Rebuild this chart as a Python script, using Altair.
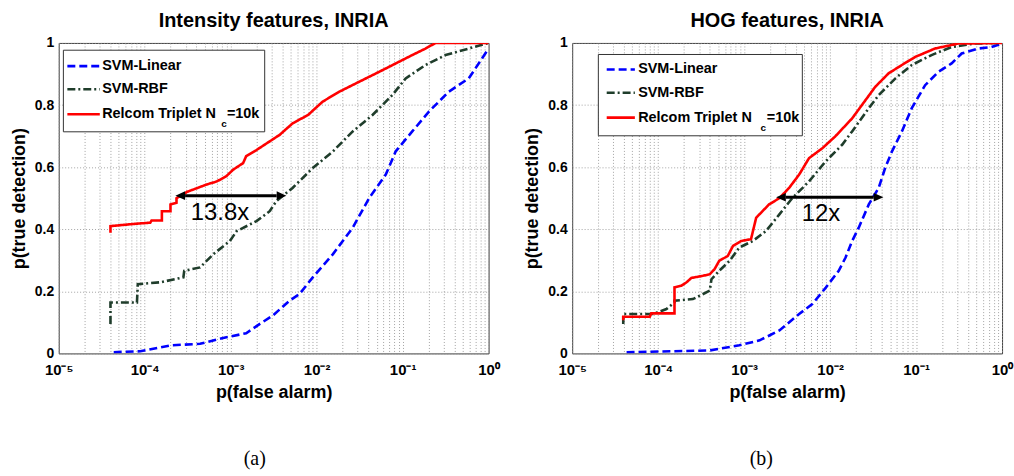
import altair as alt
import pandas as pd

FONT = "Liberation Sans"
SERIF = "Liberation Serif"
W, H = 432, 312

# ---------------- data (x values stored as log10 of p(false alarm)) ----------------
# Panel (a): Intensity features
a_lin_logfa = [-4.36, -4.05, -3.70, -3.356, -3.05, -2.82, -2.66, -2.51, -2.315, -2.20, -2.045,
               -1.81, -1.58, -1.39, -1.196, -1.08, -0.888, -0.694, -0.463, -0.23, 0.0]
a_lin_pd = [0.004, 0.007, 0.026, 0.031, 0.052, 0.065, 0.095, 0.122, 0.17, 0.191, 0.245,
            0.32, 0.405, 0.50, 0.576, 0.651, 0.715, 0.779, 0.843, 0.886, 0.982]

a_rbf_logfa = [-4.398, -4.398, -4.09, -4.08, -3.82, -3.55, -3.54, -3.356, -3.20, -3.01, -2.93,
               -2.70, -2.546, -2.47, -2.28, -2.045, -1.81, -1.58, -1.35, -1.12, -0.964,
               -0.733, -0.50, -0.23, 0.0]
a_rbf_pd = [0.095, 0.164, 0.164, 0.223, 0.229, 0.245, 0.266, 0.277, 0.32, 0.362, 0.394,
            0.426, 0.458, 0.49, 0.533, 0.597, 0.651, 0.715, 0.768, 0.832, 0.886,
            0.929, 0.961, 0.982, 1.0]

a_rel_logfa = [-4.398, -4.398, -4.09, -3.935, -3.92, -3.80, -3.80, -3.70, -3.70, -3.63, -3.63,
               -3.55, -3.51, -3.28, -3.16, -3.05, -2.97, -2.855, -2.82, -2.70, -2.546,
               -2.43, -2.28, -2.10, -1.93, -1.736, -1.505, -1.273, -1.08, -0.888, -0.733,
               -0.617, 0.0]
a_rel_pd = [0.389, 0.41, 0.418, 0.421, 0.428, 0.428, 0.458, 0.458, 0.48, 0.485, 0.50,
            0.512, 0.52, 0.544, 0.554, 0.571, 0.592, 0.613, 0.635, 0.655, 0.683,
            0.704, 0.741, 0.768, 0.811, 0.843, 0.875, 0.907, 0.934, 0.961, 0.982,
            1.0, 1.0]

# Panel (b): HOG features
b_lin_logfa = [-4.367, -3.40, -3.056, -2.82, -2.59, -2.36, -2.207, -2.05, -1.90, -1.82, -1.744,
               -1.667, -1.55, -1.435, -1.36, -1.28, -1.165, -1.05, -0.895, -0.74, -0.587,
               -0.47, -0.278, -0.124, 0.0]
b_lin_pd = [0.004, 0.0096, 0.026, 0.042, 0.074, 0.127, 0.159, 0.212, 0.266, 0.309, 0.362,
            0.405, 0.48, 0.533, 0.597, 0.651, 0.715, 0.79, 0.864, 0.907, 0.934,
            0.966, 0.982, 0.987, 0.998]

b_rbf_logfa = [-4.406, -4.406, -4.06, -3.904, -3.81, -3.81, -3.596, -3.40, -3.38, -3.29,
               -3.17, -3.056, -2.90, -2.746, -2.59, -2.44, -2.245, -2.05, -1.86, -1.744,
               -1.55, -1.435, -1.24, -1.05, -0.82, -0.587, -0.316, 0.0]
b_rbf_pd = [0.095, 0.127, 0.127, 0.143, 0.164, 0.17, 0.175, 0.202, 0.239, 0.266,
            0.298, 0.341, 0.362, 0.394, 0.448, 0.50, 0.554, 0.619, 0.672, 0.715,
            0.79, 0.832, 0.886, 0.929, 0.961, 0.987, 0.998, 1.0]

b_rel_logfa = [-4.406, -4.406, -4.097, -4.08, -3.81, -3.81, -3.73, -3.67, -3.615, -3.48,
               -3.40, -3.345, -3.29, -3.19, -3.13, -3.036, -2.92, -2.86, -2.71, -2.59,
               -2.477, -2.36, -2.245, -2.09, -1.94, -1.744, -1.63, -1.474, -1.32, -1.165,
               -1.01, -0.78, -0.51, 0.0]
b_rel_pd = [0.107, 0.118, 0.118, 0.129, 0.129, 0.213, 0.218, 0.229, 0.243, 0.25,
            0.255, 0.271, 0.298, 0.314, 0.346, 0.362, 0.368, 0.437, 0.48, 0.50,
            0.533, 0.576, 0.629, 0.661, 0.699, 0.757, 0.80, 0.859, 0.902, 0.929,
            0.955, 0.982, 0.998, 1.0]

# annotations: arrow (log10 x1, log10 x2, y), label (text, log10 x, y)
a_arrow = (-3.53, -2.465, 0.508)
a_label = ("13.8x", -3.125, 0.452)
b_arrow = (-2.515, -1.493, 0.503)
b_label = ("12x", -2.106, 0.45)

titles = ["Intensity features, INRIA", "HOG features, INRIA"]
captions = ["(a)", "(b)"]
legend_labels = ["SVM-Linear", "SVM-RBF", "Relcom Triplet N"]
legend_sub = "c"
legend_tail = "=10k"
x_title = "p(false alarm)"
y_title = "p(true detection)"
y_ticks = [0, 0.2, 0.4, 0.6, 0.8, 1]
x_ticks = [m * 10.0 ** e for e in range(-5, 0) for m in range(1, 10)] + [1.0]

colors = ["#0000ff", "#1f3d2b", "#ff0000"]
dashes = [[8, 4], [8, 3, 2, 3], [1, 0]]

label_expr = ("abs(log(datum.value)/LN10 - round(log(datum.value)/LN10)) < 0.001 ? "
              "['10\u207b\u2075','10\u207b\u2074','10\u207b\u00b3','10\u207b\u00b2','10\u207b\u00b9','10\u2070']"
              "[round(log(datum.value)/LN10)+5] : ''")

x_scale = alt.Scale(type="log", domain=[1e-5, 1], nice=False)
y_scale = alt.Scale(domain=[0, 1], nice=False)

x_axis = alt.Axis(values=x_ticks, labelExpr=label_expr, grid=True, gridDash=[1, 2],
                  gridColor="#8c8c8c", gridWidth=0.8, ticks=False, tickSize=0, domain=False,
                  labelFlush=False, labelOverlap=False, labelFont=FONT, labelFontSize=15,
                  labelFontWeight="bold", labelColor="black", labelPadding=9,
                  title=x_title, titleFont=FONT, titleFontSize=18, titleFontWeight="bold",
                  titleColor="black", titlePadding=6)
y_axis = alt.Axis(values=y_ticks, format="~g", grid=True, gridDash=[1, 2],
                  gridColor="#8c8c8c", gridWidth=0.8, ticks=False, tickSize=0, domain=False,
                  labelFlush=False, labelOverlap=False, labelFont=FONT, labelFontSize=14,
                  labelFontWeight="bold", labelColor="black", labelPadding=5,
                  title=y_title, titleFont=FONT, titleFontSize=18, titleFontWeight="bold",
                  titleColor="black", titlePadding=6)


def series_df(logfa, pd_vals):
    return pd.DataFrame({"fa": [10.0 ** v for v in logfa], "tpd": pd_vals,
                         "idx": list(range(len(pd_vals)))})


def panel(title, caption, cap_x, lines, arrow, label, leg):
    layers = []
    for i, (lx, ly) in enumerate(lines):
        df = series_df(lx, ly)
        ch = alt.Chart(df).mark_line(color=colors[i], strokeWidth=2.6,
                                     strokeDash=dashes[i], clip=True).encode(
            x=alt.X("fa:Q", scale=x_scale, axis=x_axis),
            y=alt.Y("tpd:Q", scale=y_scale, axis=y_axis),
            order="idx:Q")
        layers.append(ch)

    # arrow
    adf = pd.DataFrame({"x1": [10.0 ** arrow[0]], "x2": [10.0 ** arrow[1]], "y": [arrow[2]]})
    layers.append(alt.Chart(adf).mark_rule(color="black", strokeWidth=3).encode(
        x=alt.X("x1:Q", scale=x_scale), x2="x2:Q", y=alt.Y("y:Q", scale=y_scale)))
    layers.append(alt.Chart(adf).mark_point(shape="M -1 0 L 0 -0.45 L 0 0.45 Z", filled=True,
                                            color="black", size=380, opacity=1).encode(
        x=alt.X("x1:Q", scale=x_scale), y=alt.Y("y:Q", scale=y_scale)))
    layers.append(alt.Chart(adf).mark_point(shape="M 1 0 L 0 -0.45 L 0 0.45 Z", filled=True,
                                            color="black", size=380, opacity=1).encode(
        x=alt.X("x2:Q", scale=x_scale), y=alt.Y("y:Q", scale=y_scale)))
    ldf = pd.DataFrame({"x": [10.0 ** label[1]], "y": [label[2]], "t": [label[0]]})
    layers.append(alt.Chart(ldf).mark_text(font=FONT, fontSize=24, color="black",
                                           align="center", baseline="middle").encode(
        x=alt.X("x:Q", scale=x_scale), y=alt.Y("y:Q", scale=y_scale), text="t:N"))

    # legend box (decoration, pixel placed)
    one = alt.Data(values=[{}])
    bx0, bx1, by0, by1, rows, lx0, lx1, tx, subx, subdy, tailx = leg
    layers.append(alt.Chart(one).mark_rect(fill="white", stroke="#333", strokeWidth=1).encode(
        x=alt.value(bx0), x2=alt.value(bx1), y=alt.value(by0), y2=alt.value(by1)))
    for i, name in enumerate(legend_labels):
        layers.append(alt.Chart(one).mark_rule(color=colors[i], strokeWidth=2.6,
                                               strokeDash=dashes[i]).encode(
            x=alt.value(lx0), x2=alt.value(lx1), y=alt.value(rows[i])))
        layers.append(alt.Chart(one).mark_text(font=FONT, fontSize=14.5, fontWeight="bold",
                                               color="black", align="left",
                                               baseline="middle").encode(
            x=alt.value(tx), y=alt.value(rows[i]), text=alt.value(name)))
    layers.append(alt.Chart(one).mark_text(font=FONT, fontSize=10, fontWeight="bold",
                                           color="black", align="center",
                                           baseline="middle").encode(
        x=alt.value(subx), y=alt.value(rows[2] + subdy), text=alt.value(legend_sub)))
    layers.append(alt.Chart(one).mark_text(font=FONT, fontSize=14.5, fontWeight="bold",
                                           color="black", align="left",
                                           baseline="middle").encode(
        x=alt.value(tailx), y=alt.value(rows[2]), text=alt.value(legend_tail)))

    # caption below the panel
    layers.append(alt.Chart(one).mark_text(font=SERIF, fontSize=20, color="black",
                                           align="center", baseline="middle").encode(
        x=alt.value(cap_x), y=alt.value(418), text=alt.value(caption)))

    return alt.layer(*layers).properties(
        width=W, height=H,
        title=alt.TitleParams(title, font=FONT, fontSize=20, fontWeight="bold",
                              color="black", offset=5))


leg_a = (4.7, 207, 7.3, 89.3, [23.3, 46.6, 71.6], 8.7, 41.3, 43.7, 166, 10, 169)
leg_b = (26.3, 231.3, 11.6, 93.3, [26.6, 50.0, 75.0], 34.7, 63, 66.3, 192, 10, 195.5)

left = panel(titles[0], captions[0], 197,
             [(a_lin_logfa, a_lin_pd), (a_rbf_logfa, a_rbf_pd), (a_rel_logfa, a_rel_pd)],
             a_arrow, a_label, leg_a)
right = panel(titles[1], captions[1], 190,
              [(b_lin_logfa, b_lin_pd), (b_rbf_logfa, b_rbf_pd), (b_rel_logfa, b_rel_pd)],
              b_arrow, b_label, leg_b)

chart = alt.hconcat(left, right, spacing=23).properties(
    padding={"left": 10, "top": 9, "right": 0, "bottom": 0},
    background="white",
).configure_view(stroke="#404040", strokeWidth=1)

chart.save("out.html", embed_options={"renderer": "svg", "actions": False})
